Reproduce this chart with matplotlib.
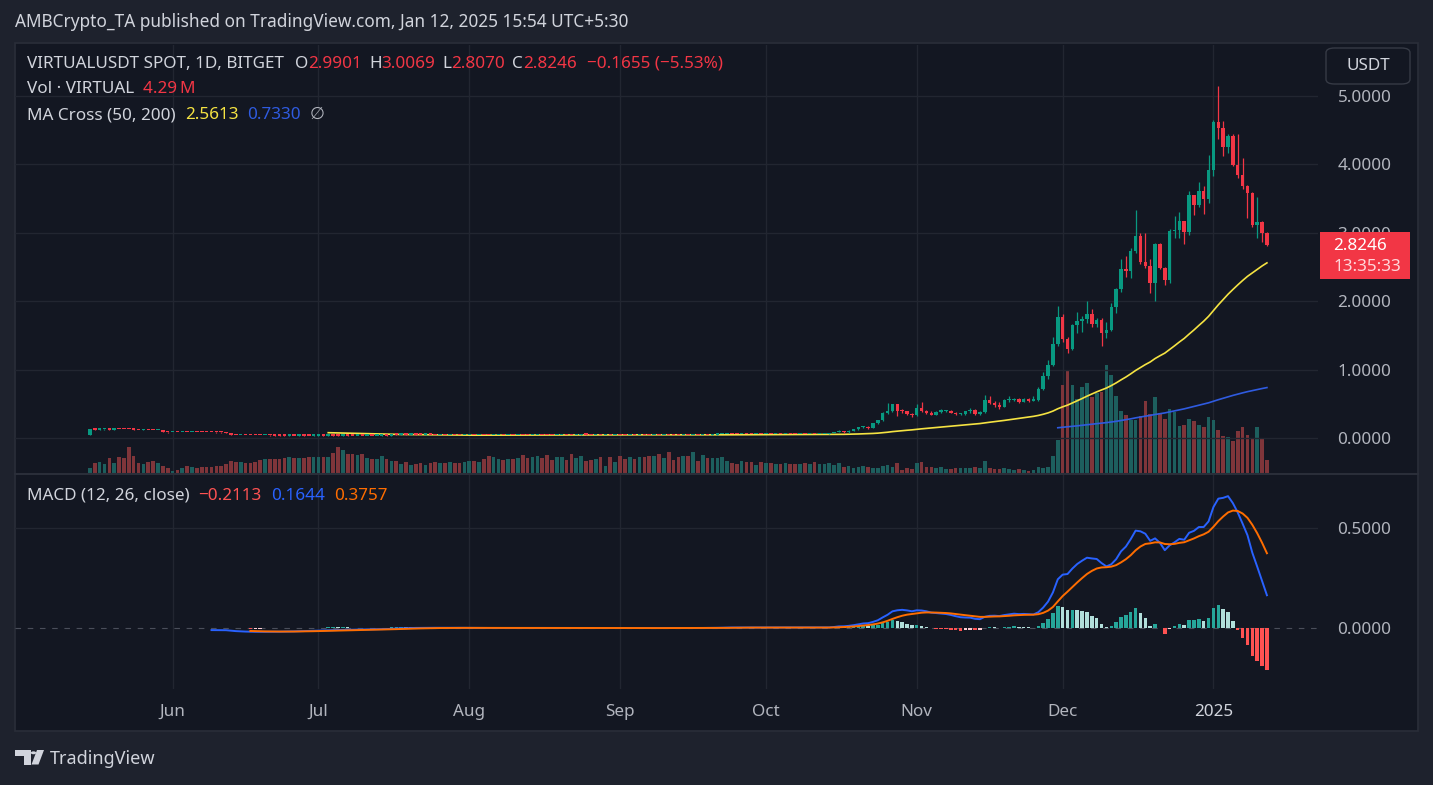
import numpy as np
import pandas as pd
import matplotlib
matplotlib.use("Agg")
import matplotlib.pyplot as plt
import matplotlib.dates as mdates
from matplotlib.patches import Rectangle, FancyBboxPatch, Polygon, Circle

W, H = 1433, 785

# ---------------- data: VIRTUALUSDT spot, 1D, Bitget ----------------
start_date = "2024-05-15"
first_open = 0.050

close_may = [.128, .124, .126, .127, .121, .134, .131, .129, .128, .121, .119, .123, .120, .118, .119, .088, .086]
high_may = [.138, .134, .130, .130, .128, .138, .136, .133, .131, .129, .123, .127, .124, .122, .122, .121, .094]
low_may = [.048, .120, .121, .122, .118, .120, .127, .126, .125, .119, .115, .117, .117, .114, .115, .084, .080]
vol_may = [1.65, 3.3, 3.6, 2.9, 5.0, 3.2, 5.3, 5.0, 8.5, 5.5, 3.2, 2.9, 3.6, 3.9, 3.2, 2.2, 1.65]

close_jun = [.089, .087, .090, .088, .091, .089, .088, .087, .084, .082, .081, .075, .046, .044, .045,
             .042, .041, .040, .039, .040, .037, .036, .035, .034, .035, .034, .036, .035, .034, .035]
high_jun = [.092, .091, .093, .091, .094, .092, .091, .090, .089, .086, .084, .083, .077, .049, .047,
            .046, .044, .043, .042, .042, .041, .039, .038, .037, .037, .036, .038, .037, .036, .037]
low_jun = [.085, .084, .086, .085, .087, .086, .085, .084, .082, .080, .078, .072, .043, .041, .042,
           .040, .039, .038, .037, .037, .035, .034, .033, .032, .033, .032, .033, .033, .032, .033]
vol_jun = [0.55, 0.9, 1.65, 2.2, 1.9, 1.5, 1.9, 1.9, 2.0, 2.2, 2.3, 2.9, 3.9, 3.5, 3.5,
           3.2, 3.2, 3.5, 4.2, 4.5, 4.5, 4.5, 4.5, 4.8, 5.2, 4.8, 4.8, 4.8, 5.2, 5.2]

close_jul = [.036, .035, .037, .036, .035, .036, .035, .034, .035, .034, .035, .034, .035, .036, .035, .049,
             .048, .050, .049, .050, .049, .048, .049, .048, .047, .048, .047, .048, .047, .046, .047]
high_jul = [.037, .037, .038, .038, .037, .037, .037, .036, .036, .036, .036, .036, .036, .037, .037, .052,
            .051, .052, .051, .052, .051, .050, .051, .050, .049, .050, .049, .050, .049, .048, .049]
low_jul = [.034, .033, .034, .034, .033, .034, .033, .032, .033, .032, .033, .032, .033, .034, .033, .034,
           .046, .047, .047, .048, .047, .046, .047, .046, .045, .046, .045, .046, .045, .044, .045]
vol_jul = [5.2, 5.2, 5.2, 6.5, 8.5, 7.5, 6.2, 6.2, 5.8, 6.2, 4.8, 4.5, 4.5, 5.5, 4.5, 3.9,
           3.9, 2.9, 3.5, 2.5, 2.9, 3.2, 2.5, 3.2, 3.5, 3.2, 3.2, 3.5, 3.2, 3.2, 3.5]

close_aug = [.048, .046, .047, .045, .042, .044, .046, .045, .047, .046, .048, .047, .045, .046, .048, .047,
             .046, .045, .047, .048, .046, .045, .047, .049, .048, .046, .047, .045, .046, .044, .045]
high_aug = [.050, .049, .049, .048, .046, .046, .048, .048, .049, .049, .050, .050, .049, .048, .050, .050,
            .049, .048, .049, .050, .050, .048, .049, .051, .051, .050, .049, .049, .048, .048, .047]
low_aug = [.044, .044, .044, .043, .040, .041, .042, .043, .043, .044, .044, .045, .043, .043, .044, .045,
           .044, .043, .043, .045, .044, .043, .043, .045, .046, .044, .044, .043, .043, .042, .042]
vol_aug = [3.9, 3.9, 3.5, 4.5, 5.5, 5.2, 4.5, 4.2, 4.5, 4.5, 5.0, 5.8, 4.8, 5.2, 5.5, 4.8,
           5.8, 4.2, 5.2, 5.2, 4.2, 6.2, 4.8, 5.5, 3.9, 4.2, 4.5, 5.2, 2.2, 5.2, 3.5]

close_sep = [.044, .043, .045, .044, .046, .045, .044, .046, .045, .047, .046, .045, .044, .046, .045,
             .047, .046, .048, .047, .049, .052, .056, .058, .057, .055, .056, .054, .053, .055, .054]
high_sep = [.047, .046, .047, .047, .048, .048, .047, .048, .048, .049, .049, .048, .047, .048, .048,
            .049, .049, .050, .050, .051, .054, .058, .061, .060, .058, .058, .058, .056, .057, .057]
low_sep = [.041, .040, .042, .042, .043, .043, .042, .043, .043, .044, .044, .043, .042, .043, .043,
           .044, .044, .045, .045, .046, .048, .051, .054, .054, .052, .053, .052, .051, .052, .052]
vol_sep = [5.5, 4.5, 5.2, 4.5, 5.2, 5.2, 5.5, 5.5, 6.2, 4.8, 6.8, 4.2, 5.2, 5.5, 5.5,
           6.8, 3.9, 5.8, 4.8, 4.8, 4.8, 5.2, 3.9, 3.2, 2.9, 3.9, 3.5, 3.5, 2.5, 3.5]

close_oct = [.055, .054, .056, .055, .057, .056, .055, .057, .056, .058, .057, .058, .060, .068, .088, .105,
             .082, .108, .128, .155, .165, .145, .215, .258, .365, .395, .490, .400, .390, .345, .330]
high_oct = [.057, .057, .058, .058, .059, .058, .058, .059, .058, .060, .059, .062, .063, .072, .092, .112,
            .108, .112, .135, .162, .175, .170, .225, .268, .380, .510, .500, .500, .420, .400, .360]
low_oct = [.052, .052, .053, .053, .054, .054, .053, .054, .054, .055, .055, .055, .056, .058, .066, .085,
           .078, .080, .102, .122, .150, .138, .140, .205, .250, .355, .380, .320, .370, .330, .310]
vol_oct = [3.2, 3.2, 2.9, 2.9, 3.2, 2.9, 2.9, 2.9, 3.2, 2.9, 3.5, 3.1, 2.9, 3.2, 2.5, 3.2,
           1.9, 2.2, 1.5, 1.9, 2.2, 1.9, 1.5, 1.5, 2.2, 2.5, 1.9, 3.2, 0.9, 1.5, 1.2]

close_nov = [.445, .400, .370, .340, .385, .390, .395, .370, .345, .350, .390, .405, .345, .385, .560,
             .510, .480, .460, .550, .555, .570, .520, .565, .545, .555, .720, .910, 1.07, 1.37, 1.77]
high_nov = [.500, .520, .410, .390, .400, .430, .410, .410, .380, .370, .400, .440, .420, .400, .630,
            .620, .540, .530, .570, .610, .590, .580, .580, .580, .610, .740, .960, 1.14, 1.48, 1.93]
low_nov = [.320, .380, .350, .330, .330, .370, .380, .360, .340, .340, .340, .360, .330, .340, .370,
           .490, .460, .420, .450, .520, .540, .510, .520, .530, .540, .540, .700, .860, 1.05, 1.35]
vol_nov = [3.2, 3.5, 1.9, 1.9, 1.5, 1.9, 1.2, 1.2, 1.5, 1.5, 1.5, 1.5, 1.9, 1.5, 3.9,
           1.5, 1.2, 1.2, 1.5, 1.2, 0.9, 1.2, 0.9, 0.55, 0.9, 1.9, 1.5, 1.9, 5.5, 10.8]

close_dec = [1.45, 1.30, 1.65, 1.71, 1.74, 1.81, 1.67, 1.72, 1.54, 1.58, 1.92, 2.18, 2.47, 2.44, 2.73, 2.96,
             2.57, 2.52, 2.26, 2.83, 2.49, 2.31, 3.03, 3.04, 3.17, 3.01, 3.55, 3.40, 3.61, 3.50, 3.92]
high_dec = [1.81, 1.48, 1.66, 1.84, 1.78, 2.01, 1.88, 1.76, 1.76, 1.70, 1.97, 2.20, 2.62, 2.66, 2.78, 3.34,
            3.00, 3.00, 2.62, 2.85, 2.85, 2.50, 3.06, 3.25, 3.30, 3.17, 3.61, 3.55, 3.74, 3.69, 4.14]
low_dec = [1.41, 1.24, 1.29, 1.54, 1.55, 1.68, 1.63, 1.63, 1.35, 1.46, 1.56, 1.83, 2.13, 2.36, 2.34, 2.70,
           2.55, 2.48, 2.12, 2.01, 2.47, 2.24, 2.26, 2.93, 2.93, 2.83, 2.97, 3.26, 3.38, 3.28, 3.43]
vol_dec = [28.9, 33.9, 28.9, 24.5, 28.3, 29.7, 25.1, 26.4, 26.7, 35.5, 32.2, 25.3, 20.5, 19.0, 17.4, 17.4,
           18.7, 23.7, 19.4, 24.9, 19.9, 17.9, 21.2, 20.1, 15.4, 15.7, 17.9, 17.1, 15.7, 15.0, 18.3]

close_jan = [4.62, 4.53, 4.26, 4.42, 3.99, 3.84, 3.68, 3.58, 3.11, 3.16, 2.9901, 2.8246]
high_jan = [4.65, 5.15, 4.63, 4.45, 4.45, 4.45, 4.10, 3.70, 3.60, 3.53, 3.17, 3.0069]
low_jan = [3.83, 4.37, 4.12, 4.16, 3.97, 3.80, 3.64, 3.22, 3.09, 2.92, 2.87, 2.8070]
vol_jan = [17.6, 14.3, 12.1, 11.7, 10.5, 13.8, 15.0, 12.4, 11.3, 15.0, 11.3, 4.29]

# legend readings shown by TradingView
ma_legend = [2.5613, 0.7330]
macd_legend = [-0.2113, 0.1644, 0.3757]
countdown = "13:35:33"
price_ticks = [0, 1, 2, 3, 4, 5]
macd_ticks = [0.0, 0.5]

close = np.array(close_may + close_jun + close_jul + close_aug + close_sep + close_oct + close_nov + close_dec + close_jan)
high = np.array(high_may + high_jun + high_jul + high_aug + high_sep + high_oct + high_nov + high_dec + high_jan)
low = np.array(low_may + low_jun + low_jul + low_aug + low_sep + low_oct + low_nov + low_dec + low_jan)
vol = np.array(vol_may + vol_jun + vol_jul + vol_aug + vol_sep + vol_oct + vol_nov + vol_dec + vol_jan)
opn = np.concatenate([[first_open], close[:-1]])

dates = pd.date_range(start_date, periods=len(close), freq="D")
xd = mdates.date2num(dates)

# indicators
s = pd.Series(close)
ma50 = s.rolling(50).mean()
ma200 = s.rolling(200).mean()
macd = s.ewm(span=12, adjust=False).mean() - s.ewm(span=26, adjust=False).mean()
macd[:25] = np.nan
signal = macd.ewm(span=9, adjust=False).mean()
signal[:33] = np.nan
hist = macd - signal

# ---------------- style ----------------
OUTER = "#1e222d"
PANE = "#131722"
BORDER = "#2a2e39"
GRID = "#222631"
TXT = "#d1d4dc"
AXT = "#b2b5be"
UP = "#089981"
DOWN = "#f23645"
VUP = "#1d5f5e"
VDOWN = "#7f353a"
FS = 12.3

plt.rcParams["font.family"] = ["Noto Sans", "DejaVu Sans"]

fig = plt.figure(figsize=(W / 100, H / 100), dpi=100)
fig.patch.set_facecolor(OUTER)


def rect(x0, y0, x1, y1):
    return [x0 / W, 1 - y1 / H, (x1 - x0) / W, (y1 - y0) / H]


fig.add_artist(Rectangle((15 / W, 1 - 731 / H), (1418 - 15) / W, (731 - 43) / H,
                         transform=fig.transFigure, facecolor=PANE, edgecolor=BORDER, lw=1.2, zorder=0))

PL, PR = 15, 1318
ax_vol = fig.add_axes(rect(PL, 45, PR, 473))
ax = fig.add_axes(rect(PL, 45, PR, 473), sharex=ax_vol)
axm = fig.add_axes(rect(PL, 474, PR, 689), sharex=ax_vol)
for a in (ax_vol, ax, axm):
    a.set_facecolor("none")
    for sp in a.spines.values():
        sp.set_visible(False)

x0 = xd[0]
ax_vol.set_xlim(x0 - 15.4, x0 + 252.5)

# volume
up = close >= opn
ax_vol.bar(xd, vol, width=0.75, color=np.where(up, VUP, VDOWN), zorder=2)
ax_vol.set_ylim(0, 141)
ax_vol.set_yticks([])
ax_vol.tick_params(axis="x", length=0, labelbottom=False)

# grid (vertical month lines in both panes)
months = pd.date_range("2024-06-01", "2025-01-01", freq="MS")
month_labels = [d.strftime("%b") if d.month != 1 else str(d.year) for d in months]
for a in (ax_vol, axm):
    for m in months:
        a.axvline(mdates.date2num(m), color=GRID, lw=1, zorder=0)

# price pane
ax.set_ylim(-0.512, 5.746)
for p in price_ticks:
    ax.axhline(p, color=GRID, lw=1, zorder=0)
ax.plot(xd, ma50, color="#f5e342", lw=1.2, zorder=3)
ax.plot(xd, ma200, color="#2f5be0", lw=1.2, zorder=3)
body_lo = np.minimum(opn, close)
body_h = np.maximum(np.abs(close - opn), 0.018)
ccol = np.where(up, UP, DOWN)
ax.vlines(xd, low, high, colors=ccol, lw=0.9, zorder=4)
ax.bar(xd, body_h, bottom=body_lo, width=0.72, color=ccol, zorder=5)
ax.yaxis.tick_right()
ax.set_yticks(price_ticks)
ax.set_yticklabels([f"{p:.4f}" for p in price_ticks])
ax.tick_params(axis="y", length=0, pad=14, labelsize=FS, labelcolor=AXT)
ax.tick_params(axis="x", length=0, labelbottom=False)

# MACD pane
axm.set_ylim(-0.305, 0.77)
axm.axhline(0.5, color=GRID, lw=1, zorder=0)
axm.axhline(0, color="#4a4e5a", lw=0.8, dashes=(5, 6), zorder=1)
hcol = []
for i, h in enumerate(hist):
    prev = hist.iloc[i - 1] if i > 0 else np.nan
    if h >= 0:
        hcol.append("#26a69a" if prev < h else "#b2dfdb")
    else:
        hcol.append("#ffcdd2" if prev < h else "#ff5252")
axm.bar(xd, hist, width=0.72, color=hcol, zorder=2)
axm.plot(xd, macd, color="#2962ff", lw=1.4, zorder=3)
axm.plot(xd, signal, color="#ff6d00", lw=1.4, zorder=3)
axm.yaxis.tick_right()
axm.set_yticks(macd_ticks)
axm.set_yticklabels([f"{v:.4f}" for v in macd_ticks])
axm.tick_params(axis="y", length=0, pad=14, labelsize=FS, labelcolor=AXT)
axm.set_xticks(mdates.date2num(months), month_labels)
axm.tick_params(axis="x", length=0, pad=11, labelsize=FS, labelcolor=AXT)
for t in axm.get_xticklabels():
    if t.get_text() == "2025":
        t.set_fontweight("bold")
        t.set_color(TXT)

# pane separator
fig.add_artist(plt.Line2D([15 / W, 1418 / W], [1 - 473.5 / H] * 2, color=BORDER, lw=1.5))

# ---------------- texts ----------------
rend = fig.canvas.get_renderer()


def seq_text(x, y, parts, size, weight="normal"):
    for s_, c_, gap in parts:
        t = fig.text(x / W, 1 - y / H, s_, color=c_, fontsize=size, va="center", ha="left", fontweight=weight)
        x += t.get_window_extent(renderer=rend).width + gap


fig.text(15 / W, 1 - 22 / H, "AMBCrypto_TA published on TradingView.com, Jan 12, 2025 15:54 UTC+5:30",
         color=TXT, fontsize=12.4, fontweight="semibold", va="center", ha="left")

chg = close[-1] - close[-2]
pct = chg / close[-2] * 100
seq_text(27, 64, [("VIRTUALUSDT SPOT, 1D, BITGET", TXT, 11),
                  ("O", TXT, 0), (f"{opn[-1]:.4f}", DOWN, 7),
                  ("H", TXT, 0), (f"{high[-1]:.4f}", DOWN, 7),
                  ("L", TXT, 0), (f"{low[-1]:.4f}", DOWN, 7),
                  ("C", TXT, 0), (f"{close[-1]:.4f}", DOWN, 10),
                  (f"\u2212{abs(chg):.4f} (\u2212{abs(pct):.2f}%)", DOWN, 0)], FS)
seq_text(27, 89, [("Vol \u00b7 VIRTUAL", TXT, 9), (f"{vol[-1]:.2f}\u2009M", DOWN, 0)], FS)
seq_text(27, 115, [("MA Cross (50, 200)", TXT, 9), (f"{ma_legend[0]:.4f}", "#f5e342", 9),
                   (f"{ma_legend[1]:.4f}", "#2f5be0", 9), ("\u2205", AXT, 0)], FS)
seq_text(27, 496, [("MACD (12, 26, close)", TXT, 9),
                   (f"\u2212{abs(macd_legend[0]):.4f}", "#ff5252", 9),
                   (f"{macd_legend[1]:.4f}", "#2962ff", 9),
                   (f"{macd_legend[2]:.4f}", "#ff6d00", 0)], FS)

# USDT button
fig.add_artist(FancyBboxPatch((1326 / W, 1 - 84 / H), (1410 - 1326) / W, (84 - 48) / H,
                              boxstyle="round,pad=0,rounding_size=0.006", transform=fig.transFigure,
                              facecolor=PANE, edgecolor="#363a45", lw=1, zorder=5))
fig.text(1368 / W, 1 - 66 / H, "USDT", color=TXT, fontsize=FS, ha="center", va="center", zorder=6)

# last price label
py = ax.transData.transform((x0, close[-1]))[1]
yl = H - py
fig.add_artist(Rectangle((1320 / W, 1 - (yl + 34) / H), 90 / W, 47 / H, transform=fig.transFigure,
                         facecolor=DOWN, edgecolor="none", zorder=5))
fig.text(1333 / W, 1 - (yl + 1) / H, f"{close[-1]:.4f}", color="white", fontsize=FS,
         fontweight="bold", ha="left", va="center", zorder=6)
fig.text(1333 / W, 1 - (yl + 22) / H, countdown, color="#ffd6da", fontsize=FS,
         ha="left", va="center", zorder=6)

# TradingView footer logo
def P(x, y):
    return (x / W, 1 - y / H)


fig.add_artist(Polygon([P(15, 750), P(31, 750), P(31, 764.5), P(23.5, 764.5), P(23.5, 755.5), P(15, 755.5)],
                       closed=True, transform=fig.transFigure, facecolor=TXT, edgecolor="none"))
fig.add_artist(Circle(P(33.5, 752.8), 2.7 / W, transform=fig.transFigure, facecolor=TXT, edgecolor="none"))
fig.add_artist(Polygon([P(37, 750), P(44, 750), P(38.5, 764.5), P(31.5, 764.5)],
                       closed=True, transform=fig.transFigure, facecolor=TXT, edgecolor="none"))
fig.text(50 / W, 1 - 759 / H, "TradingView", color=TXT, fontsize=13, fontweight="semibold",
         ha="left", va="center")

fig.savefig("out.png", dpi=100, facecolor=fig.get_facecolor())
